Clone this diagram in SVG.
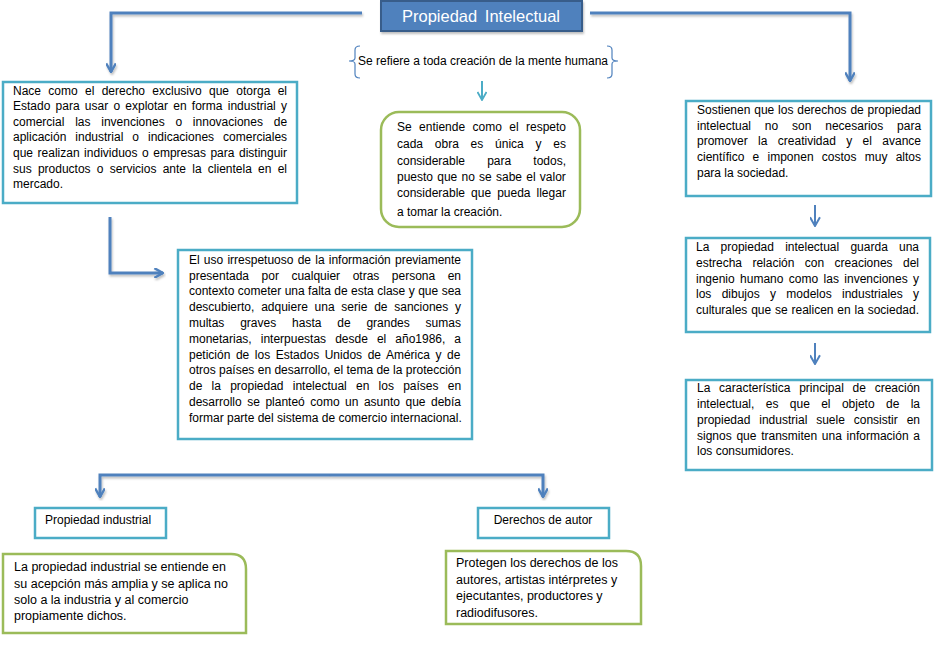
<svg xmlns="http://www.w3.org/2000/svg" width="934" height="652" viewBox="0 0 934 652">
<style>
text{font-family:"Liberation Sans",Arial,sans-serif;font-size:12px;fill:#000}
.box{fill:#fff;stroke:#4bacc6;stroke-width:2.5}
.gbox{fill:#fff;stroke:#9bbb59;stroke-width:2.5}
.conn{fill:none;stroke:#4f81bd;stroke-width:3;stroke-linejoin:miter}
.thin{fill:none;stroke:#4f81bd;stroke-width:2}
.teal{fill:none;stroke:#4bacc6;stroke-width:2}
.brace{fill:none;stroke:#4f81bd;stroke-width:1.2}
.title{font-size:16.5px;fill:#fff}
.big{font-size:12.5px}
</style>
<defs>
<marker id="chev" viewBox="0 0 10 10" refX="9" refY="5" markerWidth="3.6" markerHeight="3.6" orient="auto" markerUnits="strokeWidth">
<path d="M1,0.5 L9,5 L1,9.5" fill="none" stroke="#4f81bd" stroke-width="2.2"/>
</marker>
<marker id="chevT" viewBox="0 0 10 10" refX="9" refY="5" markerWidth="5" markerHeight="5" orient="auto" markerUnits="strokeWidth">
<path d="M1,0.5 L9,5 L1,9.5" fill="none" stroke="#4bacc6" stroke-width="1.8"/>
</marker>
<marker id="chevS" viewBox="0 0 10 10" refX="9" refY="5" markerWidth="5.5" markerHeight="5.5" orient="auto" markerUnits="strokeWidth">
<path d="M1,0.5 L9,5 L1,9.5" fill="none" stroke="#4f81bd" stroke-width="1.8"/>
</marker>
<filter id="sh" x="-5%" y="-5%" width="110%" height="120%">
<feDropShadow dx="1" dy="2" stdDeviation="1" flood-color="#000" flood-opacity="0.25"/>
</filter>
</defs>

<g id="connectors">
<path class="conn" filter="url(#sh)" marker-end="url(#chev)" d="M362,13 H111 V72"/>
<path class="conn" filter="url(#sh)" marker-end="url(#chev)" d="M590,13 H850 V81"/>
<path class="teal" marker-end="url(#chevT)" d="M482,81 V100"/>
<path class="conn" filter="url(#sh)" marker-end="url(#chev)" d="M110,217 V273 H163"/>
<path class="conn" filter="url(#sh)" d="M330,447 V475"/>
<path class="conn" filter="url(#sh)" marker-end="url(#chev)" d="M330,475 H100 V497"/>
<path class="conn" filter="url(#sh)" marker-end="url(#chev)" d="M330,475 H543 V497"/>
<path class="thin" marker-end="url(#chevS)" d="M815,205 V226"/>
<path class="thin" marker-end="url(#chevS)" d="M815,343 V364"/>
</g>

<g id="title">
<rect x="381" y="1" width="201" height="30" fill="#4f81bd" stroke="#385d8a" stroke-width="2" filter="url(#sh)"/>
<text class="title" x="481" y="22" text-anchor="middle" word-spacing="3">Propiedad Intelectual</text>
</g>

<g id="refiere">
<path class="brace" d="M360,46 Q355,46 355,50 V58 Q355,61 349,61 Q355,61 355,64 V74 Q355,78 360,78"/>
<path class="brace" d="M607,46 Q612,46 612,50 V58 Q612,61 618,61 Q612,61 612,64 V74 Q612,78 607,78"/>
<text x="358" y="65" textLength="250" lengthAdjust="spacingAndGlyphs">Se refiere a toda creación de la mente humana</text>
</g>

<g id="entiende">
<rect class="gbox" x="381" y="112" width="199" height="115" rx="18"/>
<text x="397" y="131" word-spacing="4.06">Se entiende como el respeto</text>
<text x="397" y="148" word-spacing="8.45">cada obra es única y es</text>
<text x="397" y="165" word-spacing="18.8">considerable para todos,</text>
<text x="397" y="181" word-spacing="0.9">puesto que no se sabe el valor</text>
<text x="397" y="197" word-spacing="2.7">considerable que pueda llegar</text>
<text x="397" y="216">a tomar la creación.</text>
</g>

<g id="nace">
<rect class="box" x="3" y="82" width="294" height="121"/>
<text x="13" y="95" word-spacing="3.98">Nace como el derecho exclusivo que otorga el</text>
<text x="13" y="110" word-spacing="1.9">Estado para usar o explotar en forma industrial y</text>
<text x="13" y="126" word-spacing="7.45">comercial las invenciones o innovaciones de</text>
<text x="13" y="141" word-spacing="5.65">aplicación industrial o indicaciones comerciales</text>
<text x="13" y="157" word-spacing="1.2">que realizan individuos o empresas para distinguir</text>
<text x="13" y="173" word-spacing="2.9">sus productos o servicios ante la clientela en el</text>
<text x="13" y="188">mercado.</text>
</g>

<g id="uso">
<rect class="box" x="178" y="250" width="294" height="189"/>
<text x="189" y="264" word-spacing="0.87">El uso irrespetuoso de la información previamente</text>
<text x="189" y="280" word-spacing="9.18">presentada por cualquier otras persona en</text>
<text x="189" y="295" word-spacing="0.13">contexto cometer una falta de esta clase y que sea</text>
<text x="189" y="311" word-spacing="3.42">descubierto, adquiere una serie de sanciones y</text>
<text x="189" y="327" word-spacing="12.5">multas graves hasta de grandes sumas</text>
<text x="189" y="343" word-spacing="5.71">monetarias, interpuestas desde el año1986, a</text>
<text x="189" y="359" word-spacing="2.24">petición de los Estados Unidos de América y de</text>
<text x="189" y="374">otros países en desarrollo, el tema de la protección</text>
<text x="189" y="390" word-spacing="5.89">de la propiedad intelectual en los países en</text>
<text x="189" y="406" word-spacing="2.17">desarrollo se planteó como un asunto que debía</text>
<text x="189" y="422">formar parte del sistema de comercio internacional.</text>
</g>

<g id="sostienen">
<rect class="box" x="686" y="101" width="245" height="95"/>
<text x="697" y="114" word-spacing="0.5">Sostienen que los derechos de propiedad</text>
<text x="697" y="130" word-spacing="10.5">intelectual no son necesarios para</text>
<text x="697" y="145" word-spacing="7.05">promover la creatividad y el avance</text>
<text x="697" y="161" word-spacing="4.92">científico e imponen costos muy altos</text>
<text x="697" y="177">para la sociedad.</text>
</g>

<g id="guarda">
<rect class="box" x="686" y="238" width="244" height="94"/>
<text x="696" y="251" word-spacing="7.89">La propiedad intelectual guarda una</text>
<text x="696" y="267" word-spacing="7.06">estrecha relación con creaciones del</text>
<text x="696" y="283" word-spacing="2.05">ingenio humano como las invenciones y</text>
<text x="696" y="298" word-spacing="6.99">los dibujos y modelos industriales y</text>
<text x="696" y="314" word-spacing="0.48">culturales que se realicen en la sociedad.</text>
</g>

<g id="caracteristica">
<rect class="box" x="686" y="380" width="246" height="90"/>
<text x="697" y="392" word-spacing="5.4">La característica principal de creación</text>
<text x="697" y="408" word-spacing="8.04">intelectual, es que el objeto de la</text>
<text x="697" y="424" word-spacing="5.56">propiedad industrial suele consistir en</text>
<text x="697" y="440" word-spacing="1.38">signos que transmiten una información a</text>
<text x="697" y="455">los consumidores.</text>
</g>

<g id="industrial">
<rect class="box" x="35" y="508" width="131" height="30"/>
<text x="45" y="524">Propiedad industrial</text>
</g>

<g id="autor">
<rect class="box" x="478" y="508" width="131" height="30"/>
<text x="543" y="524" text-anchor="middle">Derechos de autor</text>
</g>

<g id="industrialDef">
<path class="gbox" d="M3,554 H231 Q246,554 246,569 V633 H3 Z"/>
<text class="big" x="14" y="571">La propiedad industrial se entiende en</text>
<text class="big" x="14" y="588">su acepción más amplia y se aplica no</text>
<text class="big" x="14" y="604">solo a la industria y al comercio</text>
<text class="big" x="14" y="620">propiamente dichos.</text>
</g>

<g id="autorDef">
<path class="gbox" d="M446,551 H626 Q641,551 641,566 V624 H446 Z"/>
<text class="big" x="456" y="567">Protegen los derechos de los</text>
<text class="big" x="456" y="584">autores, artistas intérpretes y</text>
<text class="big" x="456" y="600">ejecutantes, productores y</text>
<text class="big" x="456" y="617">radiodifusores.</text>
</g>
</svg>
